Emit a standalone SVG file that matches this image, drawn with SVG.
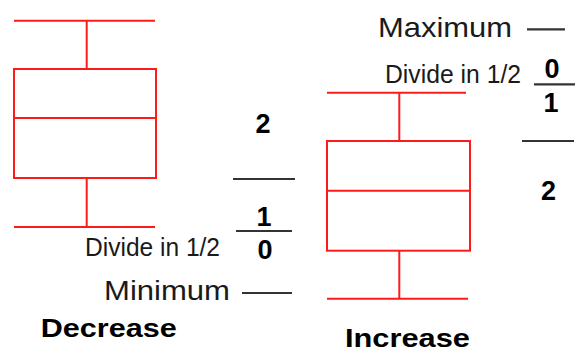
<svg xmlns="http://www.w3.org/2000/svg" width="576" height="354" viewBox="0 0 576 354">
  <style>
    .box { fill: none; stroke: #ff1a1a; stroke-width: 2; }
    .rule { stroke: #333; stroke-width: 2.2; }
    .lbl { font-family: "Liberation Sans", Arial, sans-serif; fill: #1a1a1a; }
    .num { font-family: "Liberation Sans", Arial, sans-serif; font-weight: bold; font-size: 27px; fill: #000; text-anchor: middle; }
    .title { font-family: "Liberation Sans", Arial, sans-serif; font-weight: bold; font-size: 26px; fill: #000; }
  </style>
  <rect width="576" height="354" fill="#fff"/>

  <!-- Left box plot: decreasing -->
  <g id="box-decrease">
    <line class="box" x1="14" y1="20.7" x2="155" y2="20.7"/>
    <line class="box" x1="86.7" y1="20.7" x2="86.7" y2="69"/>
    <rect class="box" x="14" y="69" width="142" height="109"/>
    <line class="box" x1="14" y1="118" x2="156" y2="118"/>
    <line class="box" x1="86.7" y1="178" x2="86.7" y2="227"/>
    <line class="box" x1="14" y1="227" x2="155" y2="227"/>
  </g>

  <!-- Right box plot: increasing -->
  <g id="box-increase">
    <line class="box" x1="327" y1="92.7" x2="466" y2="92.7"/>
    <line class="box" x1="399.3" y1="92.7" x2="399.3" y2="141"/>
    <rect class="box" x="327" y="141" width="143" height="109.7"/>
    <line class="box" x1="327" y1="190.7" x2="470" y2="190.7"/>
    <line class="box" x1="399.3" y1="250.7" x2="399.3" y2="298.7"/>
    <line class="box" x1="327" y1="298.7" x2="468" y2="298.7"/>
  </g>

  <!-- Scale marks and labels, left side -->
  <g id="scale-decrease">
    <text class="num" x="263" y="133">2</text>
    <line class="rule" x1="233" y1="179" x2="295" y2="179"/>
    <text class="num" x="264" y="226">1</text>
    <line class="rule" x1="236" y1="231" x2="292" y2="231"/>
    <text class="lbl" x="85" y="256" font-size="25" textLength="135" lengthAdjust="spacingAndGlyphs">Divide in 1/2</text>
    <text class="num" x="265" y="258.5">0</text>
    <text class="lbl" x="104" y="300" font-size="28" textLength="126" lengthAdjust="spacingAndGlyphs">Minimum</text>
    <line class="rule" x1="242" y1="293" x2="292" y2="293"/>
  </g>

  <!-- Scale marks and labels, right side -->
  <g id="scale-increase">
    <text class="lbl" x="378" y="37" font-size="28" textLength="134" lengthAdjust="spacingAndGlyphs">Maximum</text>
    <line class="rule" x1="527" y1="29.3" x2="565" y2="29.3"/>
    <text class="lbl" x="385" y="83" font-size="25" textLength="136" lengthAdjust="spacingAndGlyphs">Divide in 1/2</text>
    <text class="num" x="552" y="78.3">0</text>
    <line class="rule" x1="534" y1="84.3" x2="575" y2="84.3"/>
    <text class="num" x="551" y="111.7">1</text>
    <line class="rule" x1="522" y1="141" x2="574" y2="141"/>
    <text class="num" x="548.5" y="200">2</text>
  </g>

  <!-- Captions -->
  <g id="captions">
    <text class="title" x="40.7" y="336.7" textLength="136" lengthAdjust="spacingAndGlyphs">Decrease</text>
    <text class="title" x="345" y="346.7" textLength="125" lengthAdjust="spacingAndGlyphs">Increase</text>
  </g>
</svg>
